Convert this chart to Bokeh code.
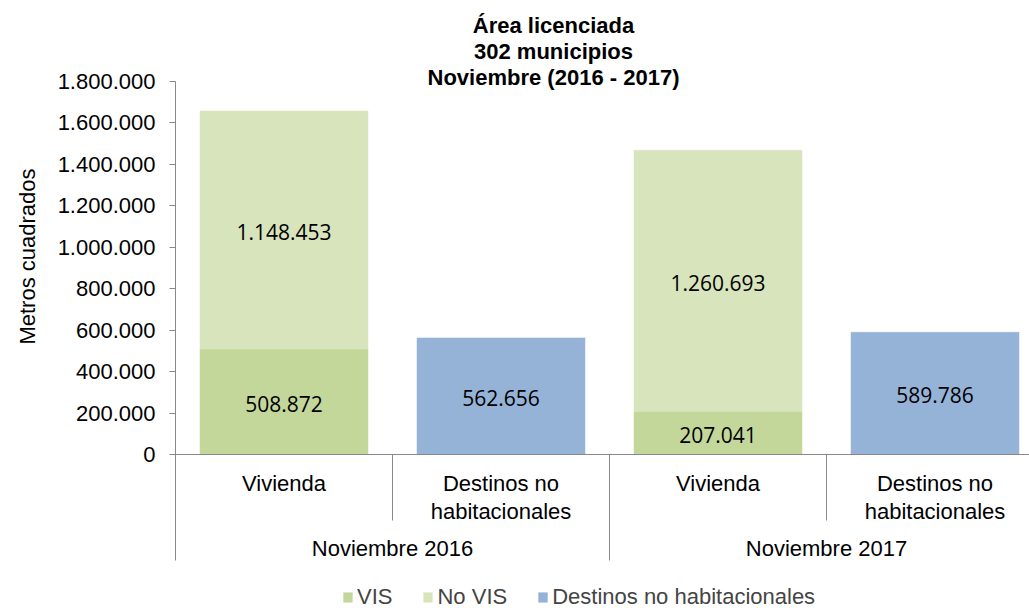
import math
from bokeh.plotting import figure
from bokeh.models import (Range1d, FixedTicker, Span, Label, Legend, LegendItem,
                          ColumnDataSource, Title)
from bokeh.core.properties import value
from bokeh.embed import file_html
from bokeh.resources import INLINE

# ---------------- data ----------------
months = ["Noviembre 2016", "Noviembre 2017"]
subcats = ["Vivienda", "Destinos no\nhabitacionales"]
vis = [508872, 207041]
no_vis = [1148453, 1260693]
destinos = [562656, 589786]
yticks = [0, 200000, 400000, 600000, 800000, 1000000, 1200000, 1400000, 1600000, 1800000]
legend_labels = ["VIS", "No VIS", "Destinos no habitacionales"]
title_lines = ["Área licenciada", "302 municipios", "Noviembre (2016 - 2017)"]
y_title = "Metros cuadrados"

# ---------------- layout ----------------
W, H = 1029, 608
LEFT = 175       # frame left edge (px)
TOP = 81         # y of top tick (px)
ZERO = 454       # y of zero line (px)
SLOT = 217       # width of one category slot (px)
YMAX = 1800000
K = (ZERO - TOP) / YMAX
Y_START = -(H - ZERO) / K
Y_END = ZERO / K
X_END = (W - LEFT) / SLOT
BAR_W = 168 / SLOT

def px2x(px):
    return (px - LEFT) / SLOT

def px2y(py):
    return (ZERO - py) / K

C_VIS = "#C4D79B"
C_NOVIS = "#D8E4BC"
C_DEST = "#95B3D7"
GRAY = "#898989"
FONT = "Liberation Sans"
FS = "22px"

def fmt(v):
    return f"{v:,}".replace(",", ".")

p = figure(width=W, height=H, x_range=Range1d(0, X_END), y_range=Range1d(Y_START, Y_END),
           output_backend="svg", toolbar_location=None, x_axis_type=None,
           min_border_left=LEFT, min_border_right=0, min_border_top=0, min_border_bottom=0)
p.outline_line_color = None
p.grid.visible = False
p.background_fill_color = "white"
p.border_fill_color = "white"

# y axis
ax = p.yaxis[0]
ax.ticker = FixedTicker(ticks=yticks)
ax.major_label_overrides = {t: fmt(t) for t in yticks}
ax.bounds = (px2y(560), YMAX)
ax.axis_line_color = GRAY
ax.major_tick_line_color = GRAY
ax.major_tick_in = 0
ax.major_tick_out = 6
ax.minor_tick_line_color = None
ax.major_label_standoff = 14
ax.major_label_text_font = FONT
ax.major_label_text_font_size = FS
ax.major_label_text_color = "#000000"

# y axis title (left of the axis, raised to the value area)
p.add_layout(Title(text=y_title, align="right", offset=168, standoff=26,
                   vertical_align="top",
                   text_font=FONT, text_font_size=FS, text_font_style="normal",
                   text_color="#000000"), "left")

# bars
n = len(months)
viv_x = [2 * i + 0.5 for i in range(n)]
dest_x = [2 * i + 1.5 for i in range(n)]
src = ColumnDataSource(dict(x=viv_x, VIS=vis, NoVIS=no_vis))
r_stack = p.vbar_stack(["VIS", "NoVIS"], x="x", width=BAR_W, source=src,
                       fill_color=[C_VIS, C_NOVIS], line_color=[C_VIS, C_NOVIS], line_width=0.5)
r_dest = p.vbar(x=dest_x, top=destinos, width=BAR_W, fill_color=C_DEST,
                line_color=C_DEST, line_width=0.5)

# data labels
lx, ly, lt = [], [], []
for i in range(n):
    lx += [viv_x[i], viv_x[i], dest_x[i]]
    ly += [vis[i] / 2, vis[i] + no_vis[i] / 2, destinos[i] / 2]
    lt += [fmt(vis[i]), fmt(no_vis[i]), fmt(destinos[i])]
p.text(x=lx, y=ly, text=lt, text_font=value("Open Sans"), text_font_size="21px",
       text_align="center", text_baseline="middle", text_color="#000000",
       y_offset=2)

# category axis
p.add_layout(Span(location=0, dimension="width", line_color=GRAY, line_width=1))
bx = list(range(1, 2 * n + 1))
by = [px2y(560) if b % 2 == 0 else px2y(520) for b in bx]
p.segment(x0=bx, y0=[0] * len(bx), x1=bx, y1=by, line_color=GRAY, line_width=1)
sx, st = [], []
for i in range(n):
    for j, s in enumerate(subcats):
        sx.append(2 * i + j + 0.5)
        st.append(s)
p.text(x=sx, y=[px2y(470)] * len(sx), text=st, text_font=value(FONT), text_font_size=FS,
       text_align="center", text_baseline="top", text_line_height=1.12, text_color="#000000")
p.text(x=[2 * i + 1 for i in range(n)], y=[px2y(548)] * n, text=months, text_font=value(FONT),
       text_font_size=FS, text_align="center", text_baseline="middle", text_color="#000000")

# title
for ty, t in zip([25, 51, 77], title_lines):
    p.add_layout(Label(x=px2x(553), y=px2y(ty), text=t, text_align="center",
                       text_baseline="middle", text_font=FONT, text_font_size=FS,
                       text_font_style="bold", text_color="#000000"))

# legend
legend = Legend(items=[LegendItem(label=legend_labels[0], renderers=[r_stack[0]]),
                       LegendItem(label=legend_labels[1], renderers=[r_stack[1]]),
                       LegendItem(label=legend_labels[2], renderers=[r_dest])],
                orientation="horizontal", location=(167, -2),
                border_line_color=None, background_fill_alpha=0,
                label_text_font=FONT, label_text_font_size=FS,
                glyph_width=11, glyph_height=12, label_standoff=4, spacing=30,
                padding=0, margin=0)
p.add_layout(legend)

open("out.html", "w").write(file_html(p, INLINE))
